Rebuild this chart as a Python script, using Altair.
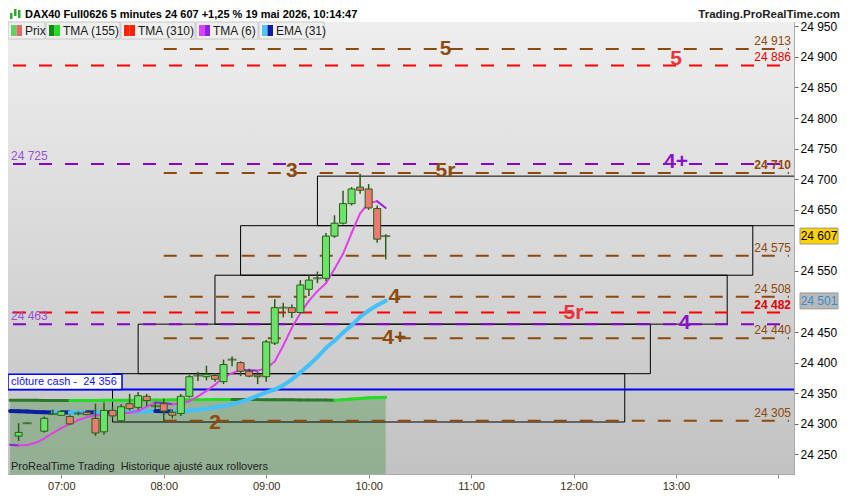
import altair as alt
import pandas as pd

# ---------------- data ----------------
candle_time = ["06:35", "06:40", "06:50", "06:55", "07:00", "07:05", "07:10", "07:15", "07:20", "07:25",
               "07:30", "07:35", "07:40", "07:45", "07:50", "07:55", "08:00", "08:05", "08:10", "08:15",
               "08:20", "08:25", "08:30", "08:35", "08:40", "08:45", "08:50", "08:55", "09:00", "09:05",
               "09:10", "09:15", "09:20", "09:25", "09:30", "09:35", "09:40", "09:45", "09:50", "09:55",
               "10:00", "10:05", "10:10"]
candle_open = [24280, 24301, 24288, 24316, 24314, 24312, 24317, 24319, 24309, 24287,
               24322, 24305, 24333, 24327, 24345, 24329, 24333, 24319, 24317, 24345,
               24379, 24377, 24379, 24369, 24405, 24400, 24386, 24380, 24377, 24432,
               24490, 24490, 24482, 24520, 24538, 24538, 24607, 24628, 24660, 24687,
               24684, 24652, 24607]
candle_high = [24301, 24302, 24312, 24323, 24322, 24314, 24320, 24320, 24333, 24335,
               24328, 24332, 24349, 24352, 24349, 24335, 24341, 24323, 24349, 24380,
               24385, 24395, 24383, 24405, 24410, 24402, 24390, 24385, 24437, 24504,
               24498, 24495, 24535, 24543, 24549, 24612, 24641, 24681, 24687, 24709,
               24692, 24657, 24610]
candle_low = [24272, 24300, 24286, 24315, 24313, 24298, 24314, 24314, 24280, 24282,
              24309, 24303, 24322, 24323, 24329, 24324, 24304, 24309, 24313, 24343,
              24370, 24371, 24369, 24365, 24394, 24378, 24376, 24365, 24369, 24429,
              24474, 24473, 24481, 24509, 24530, 24533, 24604, 24626, 24657, 24676,
              24650, 24596, 24569]
candle_close = [24286, 24301, 24309, 24316, 24320, 24300, 24317, 24315, 24285, 24322,
                24313, 24328, 24325, 24346, 24338, 24329, 24321, 24314, 24345, 24377,
                24379, 24381, 24373, 24397, 24405, 24386, 24378, 24377, 24434, 24490,
                24490, 24482, 24527, 24535, 24538, 24607, 24628, 24660, 24684, 24682,
                24653, 24602, 24607]

line_time = ["06:30", "06:35", "06:40", "06:45", "06:50", "06:55", "07:00", "07:05", "07:10", "07:15",
             "07:20", "07:25", "07:30", "07:35", "07:40", "07:45", "07:50", "07:55", "08:00", "08:05",
             "08:10", "08:15", "08:20", "08:25", "08:30", "08:35", "08:40", "08:45", "08:50", "08:55",
             "09:00", "09:05", "09:10", "09:15", "09:20", "09:25", "09:30", "09:35", "09:40", "09:45",
             "09:50", "09:55", "10:00", "10:05", "10:10"]
tma6 = [24266, 24264.5, 24265.5, 24269, 24276, 24285, 24293, 24300, 24306, 24311,
        24314, 24314.5, 24315, 24317, 24318, 24321, 24328, 24335, 24334, 24332,
        24333, 24337, 24345, 24354, 24364, 24376, 24383, 24388, 24387.5, 24387,
        24391, 24402, 24428, 24457, 24481, 24501, 24517, 24530, 24553, 24578,
        24612, 24644, 24661, 24664, 24653]
ema31 = [24320.8, 24320.5, 24320, 24319.5, 24319, 24318.4, 24318.9, 24318.4, 24318.7, 24319,
         24318.4, 24318.9, 24318.4, 24319, 24319.4, 24320, 24320.5, 24321, 24320.5, 24320,
         24320.5, 24322, 24323, 24324.5, 24327, 24329, 24332, 24336, 24340.5, 24346,
         24351.5, 24356, 24363, 24372.5, 24384, 24396, 24409, 24424, 24436, 24449,
         24461, 24475, 24485, 24494, 24501]
tma155 = [24338.7, 24338.6, 24338.5, 24338.4, 24338.3, 24338.2, 24338.1, 24338.0, 24338.1, 24338.2,
          24338.3, 24338.4, 24338.5, 24338.6, 24338.7, 24338.8, 24338.9, 24339.0, 24339.1, 24339.2,
          24339.3, 24339.4, 24339.5, 24339.6, 24339.7, 24339.8, 24339.9, 24339.8, 24339.7, 24339.6,
          24339.5, 24339.4, 24339.3, 24339.2, 24339.1, 24339.0, 24338.9, 24338.8, 24338.7, 24339.5,
          24340.5, 24341.5, 24342.5, 24343.0, 24343.5]

box_start = ["09:30", "08:45", "08:30", "07:45", "07:30"]
box_end = ["14:30", "13:45", "13:30", "12:45", "12:30"]
box_low = [24624, 24543, 24463, 24382, 24303]
box_high = [24705, 24624, 24543, 24463, 24382]

level_value = [24913, 24886, 24725, 24710, 24575, 24508, 24482, 24463, 24440, 24305]
level_group = ["brown", "red", "purple", "brown", "brown", "brown", "red", "purple", "brown", "brown"]
brown_start = "08:00"

tag_text = ["5", "5", "4+", "5r", "3", "4", "5r", "4", "4+", "2"]
tag_time = ["10:45", "13:00", "13:00", "10:45", "09:15", "10:15", "12:00", "13:05", "10:15", "08:30"]
tag_value = [24913, 24896, 24728, 24713, 24713, 24508, 24482, 24465, 24441, 24301]
tag_group = ["brown", "red", "purple", "brown", "brown", "brown", "red", "purple", "brown", "brown"]

cash_value = 24356
last_price = 24607
ema_last = 24501
axis_values = [24250, 24300, 24350, 24400, 24450, 24550, 24650, 24700, 24750, 24800, 24850, 24900, 24950]

legend_labels = ["Prix", "TMA (155)", "TMA (310)", "TMA (6)", "EMA (31)"]
title_text = "DAX40 Full0626 5 minutes 24 607 +1,25 % 19 mai 2026, 10:14:47"
site_text = "Trading.ProRealTime.com"
footer_text = "ProRealTime Trading \u00a0Historique ajusté aux rollovers"
cash_text = "clôture cash - \u00a0"

# ---------------- styling / layout ----------------
W, H = 786, 452
X_MIN, X_MAX = -28.3, 426.2
Y_MIN, Y_MAX = 24218, 24957
FONT = "Liberation Sans"
BROWN, RED, PURPLE = "#8c4a0c", "#ff0000", "#8800cc"
TAG_COL = {"brown": "#8c4a0c", "red": "#e8343c", "purple": "#8a10cc"}
LINE_COL = {"brown": BROWN, "red": RED, "purple": PURPLE}
WICK = "#2b5e14"


def tmin(s):
    h, m = s.split(":")
    return (int(h) - 7) * 60 + int(m)


def fmt(v):
    s = f"{int(v):,}"
    return s.replace(",", " ")


xs = alt.Scale(domain=[X_MIN, X_MAX], nice=False, zero=False)
ys = alt.Scale(domain=[Y_MIN, Y_MAX], nice=False, zero=False)
x_axis = alt.Axis(values=list(range(0, 421, 60)),
                  labelExpr="datum.value > 400 ? '' : ((datum.value < 180 ? '0' : '') + (7 + datum.value / 60) + ':00')",
                  title=None, grid=False, tickSize=4, labelFontSize=11, labelColor="#3b2a12",
                  domainColor="#aaaaaa", tickColor="#888888", labelPadding=2, labelFont=FONT)
y_axis = alt.Axis(orient="right", values=axis_values,
                  labelExpr="replace(format(datum.value, ','), ',', ' ')",
                  title=None, grid=False, tickSize=4, labelFontSize=12, labelColor="#000000",
                  domainColor="#aaaaaa", tickColor="#666666", labelPadding=2, labelFont=FONT)


def X(f):
    return alt.X(f, type="quantitative", scale=xs, axis=x_axis)


def Y(f):
    return alt.Y(f, type="quantitative", scale=ys, axis=y_axis)


one = pd.DataFrame({"a": [0]})

# background gradient
bg = alt.Chart(one).mark_rect(
    fill=alt.LinearGradient(gradient="linear",
                            stops=[alt.GradientStop(color="#eeeeee", offset=0),
                                   alt.GradientStop(color="#c2c2c2", offset=1)],
                            x1=0, x2=0, y1=0, y2=1)
).encode(x=alt.value(0), x2=alt.value(W), y=alt.value(0), y2=alt.value(H))

# shaded area under TMA155
tma_df = pd.DataFrame({"t": [tmin(s) for s in line_time], "v": tma155, "base": Y_MIN})
area = alt.Chart(tma_df).mark_area(color="#3c8c3c", opacity=0.35, clip=True).encode(
    x=X("t"), y=Y("v"), y2="base")

# boxes
box_df = pd.DataFrame({"s": [tmin(s) for s in box_start], "e": [tmin(s) for s in box_end],
                       "lo": box_low, "hi": box_high})
boxes = alt.Chart(box_df).mark_rect(fillOpacity=0, stroke="black", strokeWidth=1, clip=True).encode(
    x=X("s"), x2="e", y=Y("lo"), y2="hi")

# dashed levels
lvl_df = pd.DataFrame({"v": level_value,
                       "s": [tmin(brown_start) if g == "brown" else X_MIN for g in level_group],
                       "e": X_MAX,
                       "col": [LINE_COL[g] for g in level_group]})
levels = alt.Chart(lvl_df).mark_rule(strokeDash=[13, 13], strokeWidth=2).encode(
    x=X("s"), x2="e", y=Y("v"), color=alt.Color("col:N", scale=None))

# cash line
cash_df = pd.DataFrame({"v": [cash_value], "hi": [cash_value + 25], "mid": [cash_value + 12.5],
                        "label": [cash_text + fmt(cash_value)]})
cash_line = alt.Chart(cash_df).mark_rule(color="#0000ee", strokeWidth=2).encode(y=Y("v"))
cash_box = alt.Chart(cash_df).mark_rect(fill="white", stroke="#0000ee", strokeWidth=1.5).encode(
    x=alt.value(0), x2=alt.value(114), y=Y("v"), y2="hi")
cash_txt = alt.Chart(cash_df).mark_text(align="left", baseline="middle", fontSize=11, color="#1010ee",
                                        font=FONT).encode(x=alt.value(3), y=Y("mid"), text="label:N")


def segments(vals, up, down):
    rows = []
    for i in range(len(vals) - 1):
        col = down if vals[i + 1] < vals[i] else up
        rows.append({"t": tmin(line_time[i]), "v": vals[i], "seg": i, "col": col})
        rows.append({"t": tmin(line_time[i + 1]), "v": vals[i + 1], "seg": i, "col": col})
    return pd.DataFrame(rows)


def seg_line(df, width):
    return alt.Chart(df).mark_line(strokeWidth=width, clip=True, strokeCap="round").encode(
        x=X("t"), y=Y("v"), detail="seg:N", color=alt.Color("col:N", scale=None))


tma155_line = seg_line(segments(tma155, "#22dd22", "#2a7a2a"), 3)
ema_line = seg_line(segments(ema31, "#45c0f8", "#0d1f9e"), 4)
tma6_line = seg_line(segments(tma6, "#e040e8", "#9420e0"), 2)

# candles
cdf = pd.DataFrame({"t": [tmin(s) for s in candle_time], "o": candle_open, "h": candle_high,
                    "l": candle_low, "c": candle_close})
cdf["fill"] = ["#6be36b" if c > o else "#ec7a72" for o, c in zip(cdf["o"], cdf["c"])]
cdf["doji"] = cdf["o"] == cdf["c"]
wicks = alt.Chart(cdf).mark_rule(color=WICK, strokeWidth=1.5).encode(x=X("t"), y=Y("l"), y2="h")
bodies = alt.Chart(cdf[~cdf["doji"]]).mark_bar(size=7, stroke=WICK, strokeWidth=1, orient="vertical").encode(
    x=X("t"), y=Y("o"), y2="c", fill=alt.Fill("fill:N", scale=None))
dojis = alt.Chart(cdf[cdf["doji"]]).mark_tick(orient="horizontal", size=9, thickness=2, color=WICK).encode(
    x=X("t"), y=Y("o"))

# level tags
tag_df = pd.DataFrame({"t": [tmin(s) for s in tag_time], "v": tag_value, "txt": tag_text,
                       "col": [TAG_COL[g] for g in tag_group]})
tags = alt.Chart(tag_df).mark_text(fontSize=21, fontWeight="bold", align="center", baseline="middle",
                                   font=FONT).encode(
    x=X("t"), y=Y("v"), text="txt:N", color=alt.Color("col:N", scale=None))

# right-side level values
rl = [(v, g) for v, g in zip(level_value, level_group) if g != "purple"]
rl_df = pd.DataFrame({"v": [v for v, g in rl], "label": [fmt(v) for v, g in rl],
                      "col": ["#e00000" if g == "red" else "#8c4a0c" for v, g in rl],
                      "bold": [(g == "red" and v < 24600) or v == 24710 for v, g in rl]})
rl_norm = alt.Chart(rl_df[~rl_df["bold"]]).mark_text(align="right", baseline="middle", dy=-8, fontSize=12,
                                                     font=FONT).encode(
    x=alt.value(W - 3), y=Y("v"), text="label:N", color=alt.Color("col:N", scale=None))
rl_bold = alt.Chart(rl_df[rl_df["bold"]]).mark_text(align="right", baseline="middle", dy=-8, fontSize=12,
                                                    fontWeight="bold", font=FONT).encode(
    x=alt.value(W - 3), y=Y("v"), text="label:N", color=alt.Color("col:N", scale=None))
ll_vals = [v for v, g in zip(level_value, level_group) if g == "purple"]
ll_df = pd.DataFrame({"v": ll_vals, "label": [fmt(v) for v in ll_vals]})
ll_txt = alt.Chart(ll_df).mark_text(align="left", baseline="middle", dy=-8, fontSize=12, color="#9a4fd8",
                                    font=FONT).encode(x=alt.value(3), y=Y("v"), text="label:N")

# axis price boxes
pb_df = pd.DataFrame({"v": [last_price, ema_last], "label": [fmt(last_price), fmt(ema_last)],
                      "fill": ["#ffd200", "#b8b8b8"], "tc": ["#000000", "#2f8fcf"]})
pb_box = alt.Chart(pb_df).mark_point(shape="M-1,-0.42L1,-0.42L1,0.42L-1,0.42Z", size=1444, filled=True,
                                     opacity=1, stroke="#9a9a9a", strokeWidth=1).encode(
    x=alt.value(W + 25), y=Y("v"), fill=alt.Fill("fill:N", scale=None))
pb_txt = alt.Chart(pb_df).mark_text(fontSize=12, align="center", baseline="middle", font=FONT).encode(
    x=alt.value(W + 25), y=Y("v"), text="label:N", color=alt.Color("tc:N", scale=None))

# header / footer
hdr = alt.Chart(pd.DataFrame({"t": [title_text]})).mark_text(
    align="left", baseline="middle", fontSize=11, fontWeight="bold", color="#000000", font=FONT).encode(
    x=alt.value(17), y=alt.value(-7), text="t:N")
site = alt.Chart(pd.DataFrame({"t": [site_text]})).mark_text(
    align="right", baseline="middle", fontSize=11.5, fontWeight="bold", color="#222222", font=FONT).encode(
    x=alt.value(W + 46), y=alt.value(-7), text="t:N")
icon_df = pd.DataFrame({"x0": [2, 6, 10], "x1": [4.5, 8.5, 12.5], "y0": [-3, -6, -12], "y1": [-9, -13, -4]})
icon = alt.Chart(icon_df).mark_rect(color="#2ea82e").encode(
    x=alt.X("x0:Q", scale=None, axis=None), x2="x1",
    y=alt.Y("y0:Q", scale=None, axis=None), y2="y1")
footer = alt.Chart(pd.DataFrame({"t": [footer_text]})).mark_text(
    align="left", baseline="middle", fontSize=11, color="#222222", font=FONT).encode(
    x=alt.value(3), y=alt.value(H - 7), text="t:N")

# legend row
leg_x0 = [0, 38, 113, 188, 251]
leg_x1 = [37, 112, 187, 250, 316]
leg_c1 = ["#5fd35f", "#138a13", "#ff2200", "#e040f0", "#4fc3f7"]
leg_c2 = ["#e06a6a", "#22dd22", "#ff2200", "#9020f0", "#0d1f9e"]
leg_df = pd.DataFrame({"x0": leg_x0, "x1": leg_x1,
                       "s0": [a + 3 for a in leg_x0], "sm": [a + 8.5 for a in leg_x0],
                       "s1": [a + 14 for a in leg_x0], "tx": [a + 17 for a in leg_x0],
                       "c1": leg_c1, "c2": leg_c2, "label": legend_labels})
leg_box = alt.Chart(leg_df).mark_rect(fill="#efefef", stroke="#c6c6c6", strokeWidth=1).encode(
    x=alt.X("x0:Q", scale=None, axis=None), x2="x1", y=alt.value(0), y2=alt.value(17))
leg_s1 = alt.Chart(leg_df).mark_rect().encode(
    x=alt.X("s0:Q", scale=None, axis=None), x2="sm", y=alt.value(3), y2=alt.value(14),
    fill=alt.Fill("c1:N", scale=None))
leg_s2 = alt.Chart(leg_df).mark_rect().encode(
    x=alt.X("sm:Q", scale=None, axis=None), x2="s1", y=alt.value(3), y2=alt.value(14),
    fill=alt.Fill("c2:N", scale=None))
leg_txt = alt.Chart(leg_df).mark_text(align="left", baseline="middle", fontSize=12, color="#1a1a1a",
                                      font=FONT).encode(
    x=alt.X("tx:Q", scale=None, axis=None), y=alt.value(9), text="label:N")

chart = alt.layer(
    bg, area, boxes, levels, cash_line,
    tma155_line, ema_line, tma6_line,
    wicks, bodies, dojis,
    tags, rl_norm, rl_bold, ll_txt,
    cash_box, cash_txt, footer,
    leg_box, leg_s1, leg_s2, leg_txt,
    pb_box, pb_txt, hdr, site, icon,
).properties(
    width=W, height=H,
    padding={"left": 0, "top": 14, "right": 48, "bottom": 16},
    autosize=alt.AutoSizeParams(type="none"),
    background="white",
).configure(font=FONT).configure_view(stroke="#a8a8a8", strokeWidth=1)

chart.save("out.html", embed_options={"renderer": "svg", "actions": False})
